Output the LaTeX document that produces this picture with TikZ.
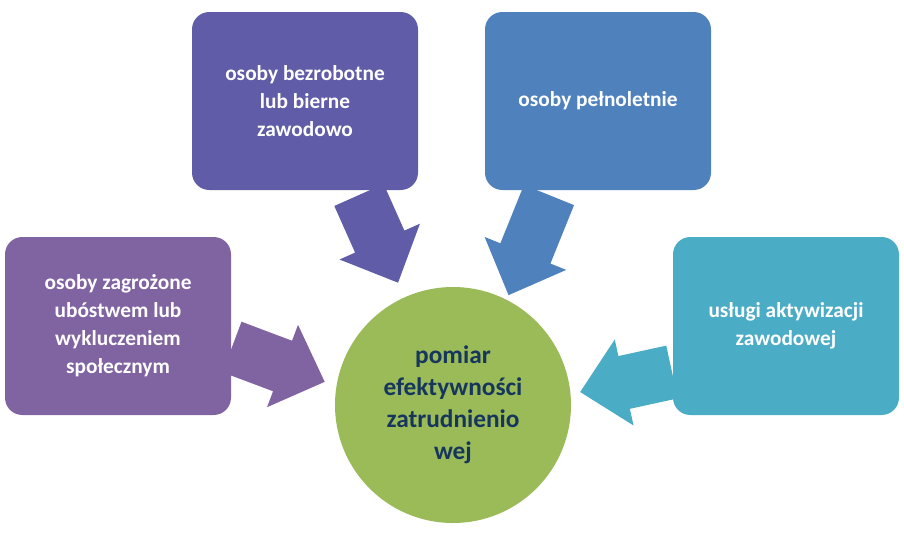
\documentclass[tikz,border=0pt]{standalone}
\usepackage{fontspec}
\setmainfont{Carlito}
\usepackage{xcolor}

\definecolor{boxpurple}{RGB}{128,100,162}
\definecolor{boxviolet}{RGB}{96,92,168}
\definecolor{boxblue}{RGB}{79,129,189}
\definecolor{boxaqua}{RGB}{75,172,198}
\definecolor{circgreen}{RGB}{155,187,89}
\definecolor{textnavy}{RGB}{23,54,93}

\tikzset{
  infobox/.style={rectangle, rounded corners=13, minimum width=226*0.75pt, minimum height=178*0.75pt, align=center, text=white, font=\fontsize{16}{21}\selectfont\bfseries}
}
\newcommand{\blockarrow}[4]{% colour, tail, angle, length
  \fill [#1, shift={#2}, rotate=#3] (0,-27) -- (#4-45,-27) -- (#4-45,-44) -- (#4,0) -- (#4-45,44) -- (#4-45,27) -- (0,27) -- cycle;}

\begin{document}
\begin{tikzpicture}[x=0.75pt,y=0.75pt,yscale=-1,xscale=1]
   \useasboundingbox (0,0) rectangle (904,547);

   %Shape: Block Arrows
   \blockarrow{boxpurple}{(232,347)}{20.6}{99}
   \blockarrow{boxviolet}{(359,195)}{66}{96}
   \blockarrow{boxblue}{(549,195)}{112}{108}
   \blockarrow{boxaqua}{(672,372)}{167.7}{94}

   %Shape: Rounded boxes
   \node [infobox, fill=boxpurple] (zagrozone) at (118,326) {osoby zagrożone\\ubóstwem lub\\wykluczeniem\\społecznym};
   \node [infobox, fill=boxviolet] (bezrobotne) at (305,101) {osoby bezrobotne\\lub bierne\\zawodowo};
   \node [infobox, fill=boxblue] (pelnoletnie) at (598,101) {osoby pełnoletnie};
   \node [infobox, fill=boxaqua] (uslugi) at (786,326) {usługi aktywizacji\\zawodowej};

   %Shape: Circle
   \node [circle, fill=circgreen, minimum size=236*0.75pt, align=center, text=textnavy, font=\fontsize{19}{24}\selectfont\bfseries] (pomiar) at (453,405) {pomiar\\efektywności\\zatrudnienio\\wej};

\end{tikzpicture}
\end{document}
